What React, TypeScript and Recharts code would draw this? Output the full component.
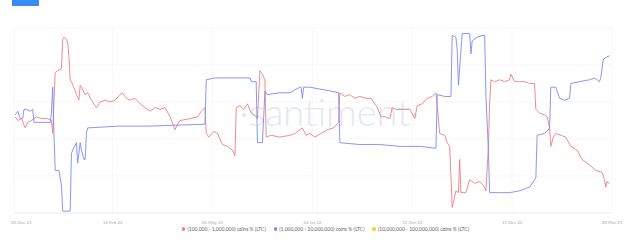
import { LineChart, Line, XAxis, YAxis, CartesianGrid } from "recharts";

// day offsets from 27 Nov 2021, values as share on a 0-100 scale
const redDays = [1, 3, 6, 9, 11, 14, 18, 22, 27, 30, 31, 32, 33, 35, 38, 39, 40, 42, 43, 44, 45, 46, 49, 50, 52, 53, 54, 57, 59, 62, 65, 66, 69, 73, 77, 81, 85, 87, 90, 93, 97, 101, 105, 109, 113, 117, 121, 125, 129, 131, 133, 141, 147, 150, 153, 154, 156, 160, 163, 167, 171, 175, 177, 178, 181, 184, 187, 190, 194, 195, 197, 199, 201, 202, 206, 213, 221, 225, 231, 234, 237, 241, 246, 251, 256, 260, 261, 265, 269, 273, 277, 282, 286, 291, 294, 298, 301, 303, 306, 311, 317, 321, 323, 327, 331, 335, 338, 341, 345, 347, 349, 351, 354, 356, 357, 358, 362, 365, 369, 373, 376, 378, 380, 381, 382, 385, 389, 393, 397, 398, 401, 405, 409, 413, 417, 418, 421, 425, 427, 429, 430, 432, 434, 438, 442, 446, 451, 455, 461, 466, 471, 473, 474, 475, 477];
const redValues = [52, 50, 51, 46, 49, 50, 52, 51, 51, 50, 43, 60, 76, 77, 78, 94, 95, 94, 92, 85, 72, 71, 66, 64, 61, 69, 68, 64, 65, 61, 58, 57, 60, 61, 60, 61, 64, 65, 62, 61, 62, 59, 57, 55, 57, 56, 57, 52, 45, 48, 50, 51, 52, 55, 57, 43, 41, 44, 43, 37, 36, 34, 31, 57, 58, 56, 59, 54, 52, 51, 77, 75, 72, 41, 42, 41, 42, 43, 46, 42, 43, 41, 43, 45, 46, 49, 65, 63, 64, 62, 63, 62, 62, 57, 52, 52, 51, 57, 56, 56, 56, 51, 58, 59, 62, 63, 65, 43, 42, 38, 36, 3, 12, 11, 29, 11, 11, 18, 16, 17, 15, 12, 36, 59, 72, 71, 72, 71, 72, 75, 71, 71, 71, 70, 70, 56, 54, 53, 52, 46, 36, 41, 43, 42, 41, 36, 34, 29, 26, 23, 22, 18, 14, 17, 16];

const blueDays = [1, 3, 5, 7, 8, 10, 13, 15, 16, 21, 29, 30, 31, 32, 33, 36, 38, 39, 42, 45, 46, 47, 50, 51, 53, 54, 56, 57, 58, 59, 85, 109, 153, 154, 161, 181, 189, 190, 194, 195, 199, 201, 203, 213, 221, 229, 230, 231, 232, 237, 245, 253, 260, 261, 277, 293, 309, 325, 338, 339, 345, 350, 351, 354, 355, 356, 358, 359, 365, 366, 367, 371, 375, 377, 378, 380, 381, 389, 397, 405, 413, 417, 418, 419, 425, 428, 429, 430, 434, 437, 441, 445, 446, 453, 461, 465, 469, 470, 472, 474, 477];
const blueValues = [53, 55, 51, 51, 56, 56, 55, 56, 49, 49, 49, 54, 68, 43, 23, 23, 15, 1, 1, 1, 32, 34, 38, 27, 38, 34, 29, 29, 43, 46, 47, 47, 48, 72, 73, 73, 73, 71, 71, 38, 38, 66, 64, 65, 65, 68, 68, 62, 68, 68, 67, 66, 65, 38, 37, 37, 36, 36, 35, 64, 63, 63, 96, 95, 88, 69, 88, 97, 97, 86, 93, 95, 96, 96, 63, 34, 11, 11, 11, 12, 14, 18, 19, 42, 43, 45, 46, 68, 68, 62, 61, 62, 70, 71, 72, 73, 71, 73, 83, 84, 85];

const tickDays = [6, 79, 159, 239, 319, 399, 479];
const tickLabels = ["03 Dec 21", "14 Feb 22", "05 May 22", "24 Jul 22", "12 Oct 22", "31 Dec 22", "20 Mar 23"];

const seriesNames = [
  "(100,000 - 1,000,000) coins % (LTC)",
  "(1,000,000 - 10,000,000) coins % (LTC)",
  "(10,000,000 - 100,000,000) coins % (LTC)",
];
const seriesColors = ["#ef7f7f", "#7b8cf0", "#f3d046"];

const redData = redDays.map((d, i) => ({ day: d, value: redValues[i] }));
const blueData = blueDays.map((d, i) => ({ day: d, value: blueValues[i] }));

export default function App() {
  return (
    <div
      style={{
        position: "absolute",
        left: 0,
        top: 0,
        width: 629,
        height: 251,
        background: "#fff",
        fontFamily: "Lato, sans-serif",
        overflow: "hidden",
      }}
    >
      <div style={{ position: "absolute", left: 12, top: 0, width: 27, height: 6, background: "#3a8af5" }} />
      <div
        style={{
          position: "absolute",
          left: 0,
          width: 629,
          top: 88,
          textAlign: "center",
          fontSize: 38,
          fontWeight: 300,
          color: "#e4e7f3",
          paddingLeft: 30,
          boxSizing: "border-box",
        }}
      >
        ·santiment·
      </div>
      <div style={{ position: "absolute", left: 0, top: 0 }}>
        <LineChart width={629} height={251} margin={{ top: 28, right: 17, bottom: 26, left: 14 }}>
          <CartesianGrid stroke="#f4f4f4" strokeWidth={0.6} />
          <XAxis
            dataKey="day"
            type="number"
            domain={[0, 479]}
            ticks={tickDays}
            tickFormatter={(d) => tickLabels[tickDays.indexOf(d)] ?? ""}
            tick={{ fontSize: 4.5, fill: "#aaa" }}
            tickLine={false}
            axisLine={{ stroke: "#eee" }}
            height={12}
            allowDuplicatedCategory={false}
          />
          <YAxis hide domain={[0, 100]} ticks={[0, 20, 40, 60, 80, 100]} />
          <Line
            data={redData}
            dataKey="value"
            name={seriesNames[0]}
            stroke={seriesColors[0]}
            strokeWidth={0.9}
            dot={false}
            isAnimationActive={false}
          />
          <Line
            data={blueData}
            dataKey="value"
            name={seriesNames[1]}
            stroke={seriesColors[1]}
            strokeWidth={0.9}
            dot={false}
            isAnimationActive={false}
          />
        </LineChart>
      </div>
      <div
        style={{
          position: "absolute",
          left: 0,
          width: 629,
          top: 226,
          display: "flex",
          justifyContent: "center",
          gap: 8,
          fontSize: 5,
          color: "#666",
          paddingLeft: 22,
          boxSizing: "border-box",
        }}
      >
        {seriesNames.map((n, i) => (
          <span key={n} style={{ display: "flex", alignItems: "center" }}>
            <span
              style={{
                width: 3.5,
                height: 3.5,
                borderRadius: "50%",
                background: seriesColors[i],
                marginRight: 2,
                display: "inline-block",
              }}
            />
            {n}
          </span>
        ))}
      </div>
    </div>
  );
}
